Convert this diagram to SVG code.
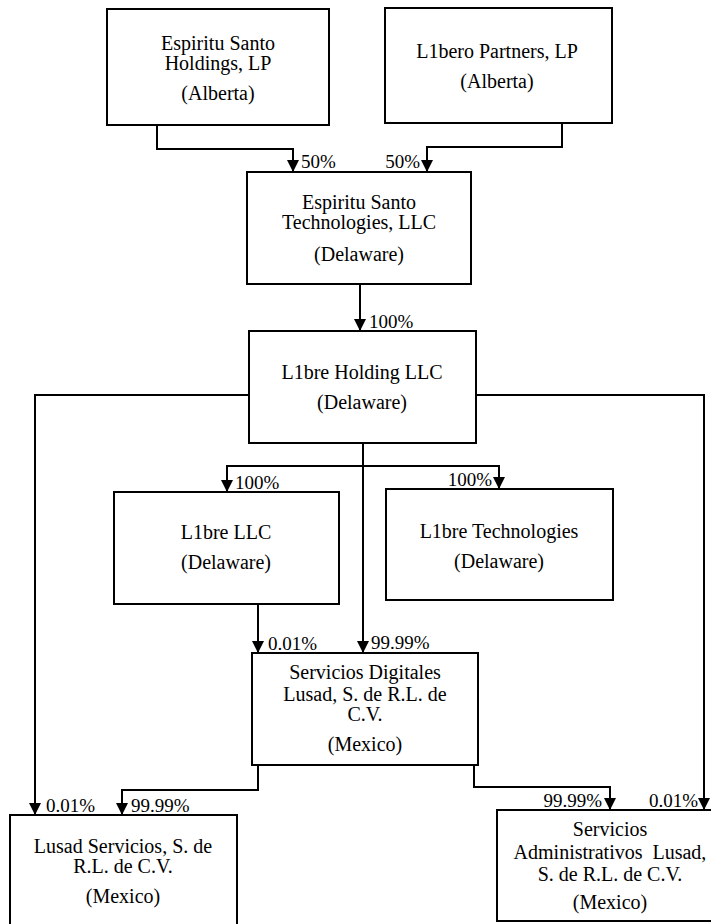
<svg xmlns="http://www.w3.org/2000/svg" width="711" height="924" viewBox="0 0 711 924">
<style>
.box{fill:#fff;stroke:#000;stroke-width:2}
.t{font-family:"Liberation Serif","Times New Roman",serif;font-size:20px;fill:#000;text-anchor:middle}
.p{font-family:"Liberation Serif","Times New Roman",serif;font-size:19px;fill:#000}
.e{text-anchor:end}
.c{fill:none;stroke:#000;stroke-width:2}
</style>
<defs>
<marker id="ah" markerUnits="userSpaceOnUse" markerWidth="12" markerHeight="12" refX="12" refY="6" orient="auto">
<path d="M0,0 L12,6 L0,12 z" fill="#000"/>
</marker>
</defs>
<rect width="711" height="924" fill="#fff"/>
<g id="connectors">
<path class="c" d="M157,125 V149 H293 V172" marker-end="url(#ah)"/>
<path class="c" d="M562,123 V147 H427 V172" marker-end="url(#ah)"/>
<path class="c" d="M360,284 V331" marker-end="url(#ah)"/>
<path class="c" d="M249,395 H35 V815" marker-end="url(#ah)"/>
<path class="c" d="M476,395 H704 V810" marker-end="url(#ah)"/>
<path class="c" d="M363,443 V653" marker-end="url(#ah)"/>
<path class="c" d="M363,466 H227 V492" marker-end="url(#ah)"/>
<path class="c" d="M363,466 H499 V489" marker-end="url(#ah)"/>
<path class="c" d="M258,604 V653" marker-end="url(#ah)"/>
<path class="c" d="M258,765 V790 H122 V815" marker-end="url(#ah)"/>
<path class="c" d="M474,765 V787 H610 V810" marker-end="url(#ah)"/>
<text class="p" x="301" y="168">50%</text>
<text class="p e" x="420" y="168">50%</text>
<text class="p" x="369" y="328">100%</text>
<text class="p" x="46" y="812">0.01%</text>
<text class="p e" x="698" y="807">0.01%</text>
<text class="p" x="371" y="649">99.99%</text>
<text class="p" x="235" y="489">100%</text>
<text class="p e" x="492" y="486">100%</text>
<text class="p" x="268" y="650">0.01%</text>
<text class="p" x="131" y="812">99.99%</text>
<text class="p e" x="602" y="807">99.99%</text>
</g>
<g id="esh">
<rect class="box" x="107" y="9" width="222" height="116"/>
<text class="t" x="218" y="50">Espiritu Santo</text>
<text class="t" x="218" y="70">Holdings, LP</text>
<text class="t" x="218" y="100">(Alberta)</text>
</g>
<g id="lp">
<rect class="box" x="385" y="8" width="227" height="115"/>
<text class="t" x="497" y="58">L1bero Partners, LP</text>
<text class="t" x="497" y="88">(Alberta)</text>
</g>
<g id="est">
<rect class="box" x="247" y="172" width="224" height="112"/>
<text class="t" x="359" y="209">Espiritu Santo</text>
<text class="t" x="359" y="229">Technologies, LLC</text>
<text class="t" x="359" y="261">(Delaware)</text>
</g>
<g id="lh">
<rect class="box" x="249" y="331" width="227" height="112"/>
<text class="t" x="362" y="379">L1bre Holding LLC</text>
<text class="t" x="362" y="409">(Delaware)</text>
</g>
<g id="llc">
<rect class="box" x="114" y="492" width="225" height="112"/>
<text class="t" x="226" y="539">L1bre LLC</text>
<text class="t" x="226" y="569">(Delaware)</text>
</g>
<g id="lt">
<rect class="box" x="386" y="489" width="227" height="111"/>
<text class="t" x="499" y="538">L1bre Technologies</text>
<text class="t" x="499" y="568">(Delaware)</text>
</g>
<g id="sd">
<rect class="box" x="252" y="653" width="226" height="112"/>
<text class="t" x="365" y="679">Servicios Digitales</text>
<text class="t" x="365" y="701">Lusad, S. de R.L. de</text>
<text class="t" x="365" y="721">C.V.</text>
<text class="t" x="365" y="751">(Mexico)</text>
</g>
<g id="ls">
<rect class="box" x="10" y="815" width="227" height="130"/>
<text class="t" x="123" y="853">Lusad Servicios, S. de</text>
<text class="t" x="123" y="873">R.L. de C.V.</text>
<text class="t" x="123" y="903">(Mexico)</text>
</g>
<g id="sal">
<rect class="box" x="497" y="810" width="230" height="111"/>
<text class="t" x="610" y="836">Servicios</text>
<text class="t" x="610" y="859">Administrativos&#160; Lusad,</text>
<text class="t" x="610" y="881">S. de R.L. de C.V.</text>
<text class="t" x="610" y="909">(Mexico)</text>
</g>
</svg>
